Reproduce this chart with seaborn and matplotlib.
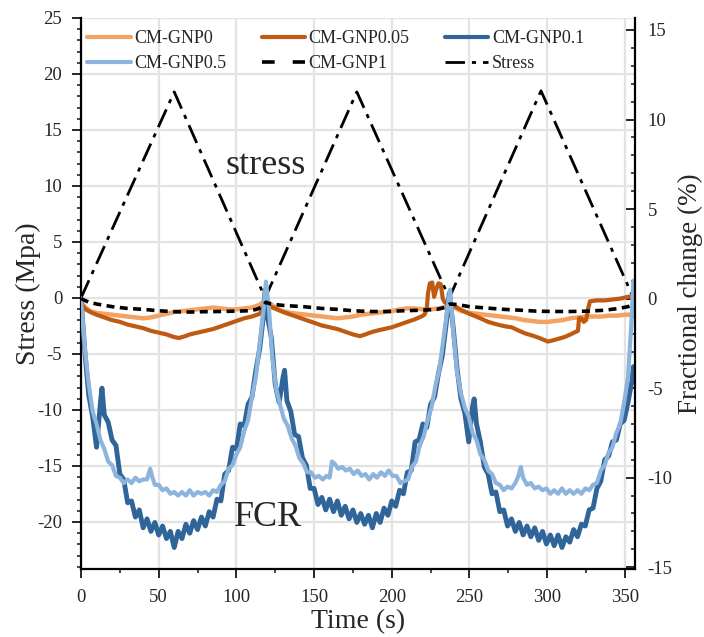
import matplotlib
matplotlib.use("Agg")
import matplotlib.pyplot as plt
import seaborn as sns
from matplotlib.ticker import MultipleLocator
from matplotlib.lines import Line2D

# ---------------- data ----------------
stress_t = [0, 60, 118.5, 177.5, 237, 296, 355.5]
stress_v = [0, 18.4, 0, 18.4, 0, 18.5, 0]

gnp01_t = [0, 2.5, 5, 7.5, 10, 12.5, 13.5, 15, 17.5, 20, 22.5, 25, 27.5, 30, 32.5, 35, 37.5, 40,
           42.5, 45, 47.5, 50, 52.5, 55, 57.5, 60, 62.5, 65, 67.5, 70, 72.5, 75, 77.5, 80, 82.5,
           85, 87.5, 90, 92.5, 95, 97.5, 100, 102.5, 105, 107.5, 110, 112.5, 115, 117.5, 118.5,
           120, 122.5, 125, 127.5, 130, 131, 132.5, 135, 137.5, 140, 142.5, 145, 147.5, 150,
           152.5, 155, 157.5, 160, 162.5, 165, 167.5, 170, 172.5, 175, 177.5, 180, 182.5, 185,
           187.5, 190, 192.5, 195, 197.5, 200, 202.5, 205, 207.5, 210, 212.5, 215, 217.5, 220,
           222.5, 225, 227.5, 230, 232.5, 235, 237,
           239.5, 242, 244.5, 247, 249.5, 252, 253, 254.5, 257, 259.5, 262, 264.5, 267, 269.5,
           272, 274.5, 277, 279.5, 282, 284.5, 287, 289.5, 292, 294.5, 297, 299.5, 302, 304.5,
           307, 309.5, 312, 314.5, 317, 319.5, 322, 324.5, 327, 329.5, 332, 334.5, 337, 339.5,
           342, 344.5, 347, 349.5, 352, 354.5, 355.5]
gnp01_v = [0.0, -3.0, -5.4, -6.6, -8.3, -5.8, -5.0, -6.5, -6.9, -7.9, -8.2, -9.8, -10.1, -11.4,
           -11.3, -12.2, -11.8, -12.8, -12.3, -13.0, -12.5, -13.2, -12.7, -13.4, -13.0, -13.9,
           -13.0, -13.4, -12.6, -13.1, -12.4, -12.9, -12.2, -12.7, -11.9, -12.2, -11.2, -11.3,
           -9.8, -9.6, -8.3, -8.4, -7.0, -7.1, -5.9, -5.5, -4.0, -2.8, -0.9, 0.5,
           -1.0, -2.2, -4.8, -5.8, -4.4, -4.0, -5.7, -6.3, -7.6, -7.7, -8.9, -9.3, -10.6, -10.6,
           -11.5, -11.1, -11.8, -11.2, -11.9, -11.3, -12.1, -11.6, -12.3, -11.8, -12.5, -12.0,
           -12.6, -12.1, -12.8, -12.0, -12.5, -11.7, -12.1, -11.3, -11.6, -10.7, -10.9, -9.7,
           -9.6, -8.0, -7.9, -7.0, -7.2, -5.9, -5.5, -4.2, -3.2, -1.4, 0.3,
           -1.6, -3.9, -5.6, -6.4, -8.0, -6.0, -5.6, -7.0, -8.0, -9.4, -9.8, -10.9, -10.8, -11.9,
           -11.8, -12.7, -12.3, -13.0, -12.5, -13.2, -12.7, -13.3, -12.8, -13.5, -13.0, -13.7,
           -13.2, -13.8, -13.2, -13.9, -13.3, -13.6, -12.9, -13.3, -12.6, -12.7, -11.8, -11.7,
           -10.6, -10.2, -9.0, -8.8, -8.0, -7.9, -7.0, -6.8, -5.8, -4.6, -3.8]

gnp05_t = [0, 2.5, 5, 7.5, 10, 12.5, 15, 17.5, 20, 22.5, 25, 27.5, 30, 32.5, 35, 37.5, 40, 42.5,
           44.5, 46, 47.5, 50, 52.5, 55, 57.5, 60, 62.5, 65, 67.5, 70, 72.5, 75, 77.5, 80, 82.5,
           85, 87.5, 90, 92.5, 95, 97.5, 100, 102.5, 105, 107.5, 110, 112.5, 115, 117.5, 119,
           121, 123, 125.5, 128, 130.5, 133, 135.5, 138, 140.5, 143, 145.5, 148, 150.5, 153,
           155.5, 158, 160, 161.5, 163, 165.5, 168, 170.5, 173, 175.5, 178, 180.5, 183, 185.5,
           188, 190.5, 193, 195.5, 198, 200.5, 203, 205.5, 208, 210.5, 213, 215.5, 218, 220.5,
           223, 225.5, 228, 230.5, 233, 235.5, 237.5,
           239.5, 242, 244.5, 247, 249.5, 252, 254.5, 257, 259.5, 262, 264.5, 267, 269.5, 272,
           274.5, 277, 279.5, 281.5, 283, 284.5, 287, 289.5, 292, 294.5, 297, 299.5, 302, 304.5,
           307, 309.5, 312, 314.5, 317, 319.5, 322, 324.5, 327, 329.5, 332, 334.5, 337, 339.5,
           342, 344.5, 347, 349.5, 352, 354, 355.5]
gnp05_v = [0.0, -2.8, -4.8, -6.3, -7.0, -7.9, -8.4, -9.1, -9.3, -9.9, -10.0, -10.3, -10.1, -10.3,
           -10.0, -10.2, -10.1, -10.1, -9.5, -10.0, -10.4, -10.4, -10.7, -10.6, -10.9, -10.8,
           -11.0, -10.8, -11.0, -10.7, -11.0, -10.8, -10.9, -10.8, -11.0, -10.7, -10.8, -10.4,
           -10.2, -9.5, -9.3, -8.7, -8.3, -7.4, -6.8, -5.5, -4.4, -2.5, -0.6, 0.95,
           -0.6, -3.2, -5.0, -5.9, -6.7, -7.1, -7.8, -8.2, -8.9, -9.2, -9.7, -9.7, -10.0, -9.9,
           -10.1, -9.9, -10.0, -9.1, -9.2, -9.5, -9.4, -9.6, -9.5, -9.8, -9.6, -9.9, -9.8, -10.1,
           -9.8, -10.0, -9.7, -9.9, -9.6, -9.9, -9.9, -10.3, -10.2, -10.1, -9.4, -9.1, -8.2,
           -7.7, -6.8, -6.1, -4.9, -4.0, -2.4, -0.8, 0.5,
           -1.8, -4.1, -5.3, -6.1, -6.6, -7.5, -7.9, -8.7, -9.0, -9.6, -9.8, -10.3, -10.4, -10.7,
           -10.5, -10.6, -10.3, -9.9, -9.4, -10.0, -10.4, -10.3, -10.6, -10.5, -10.7, -10.6,
           -10.9, -10.7, -10.9, -10.6, -10.9, -10.7, -10.9, -10.7, -10.9, -10.6, -10.7, -10.4,
           -10.3, -9.6, -9.3, -8.6, -8.3, -7.5, -7.0, -5.8, -4.4, -1.6, 1.0]

gnp0_t = [0, 3, 6, 10, 15, 20, 25, 30, 35, 40, 45, 50, 55, 60, 65, 70, 75, 80, 85, 90, 95, 100,
          105, 110, 115, 118.5, 122, 126, 130, 135, 140, 145, 150, 155, 160, 165, 170, 175, 180,
          185, 190, 195, 200, 205, 210, 215, 220, 225, 230, 235, 237, 240, 245, 250, 255, 260,
          265, 270, 275, 280, 285, 290, 295, 300, 305, 310, 315, 320, 325, 330, 335, 340, 345,
          350, 355.5]
gnp0_v = [-0.2, -0.5, -0.7, -0.8, -0.85, -0.9, -0.95, -1.0, -1.05, -1.1, -1.05, -0.95, -0.85,
          -0.75, -0.7, -0.65, -0.6, -0.55, -0.5, -0.55, -0.6, -0.6, -0.55, -0.5, -0.35, -0.05,
          -0.3, -0.55, -0.7, -0.8, -0.85, -0.9, -0.95, -1.0, -1.05, -1.1, -1.05, -1.0, -0.9,
          -0.85, -0.8, -0.75, -0.7, -0.6, -0.55, -0.55, -0.6, -0.6, -0.55, -0.45, -0.3, -0.5,
          -0.7, -0.8, -0.85, -0.9, -0.95, -1.0, -1.05, -1.1, -1.2, -1.25, -1.3, -1.3, -1.25,
          -1.2, -1.1, -1.05, -1.0, -1.0, -1.0, -0.95, -0.95, -0.9, -0.9]

gnp005_t = [0, 3, 6, 10, 15, 20, 25, 30, 35, 40, 45, 50, 55, 60, 63, 67, 70, 75, 80, 85, 90, 95,
            100, 105, 110, 115, 118.5, 122, 126, 130, 135, 140, 145, 150, 155, 160, 165, 170,
            175, 179.5, 183, 186, 190, 195, 200, 205, 210, 215, 219, 221, 222.5, 223.3, 224.5,
            226, 227.2, 228.5, 230, 231.5, 232.8, 234, 236, 240, 245, 250, 257, 262, 268, 273,
            277, 282, 286, 290, 295, 300.5, 305, 311, 315, 318.5, 319.8, 320.5, 322, 323.5, 325,
            326.5, 327.5, 332, 337, 342, 347, 352, 355.5]
gnp005_v = [-0.3, -0.6, -0.75, -0.9, -1.05, -1.2, -1.3, -1.45, -1.55, -1.65, -1.8, -1.9, -2.0,
            -2.15, -2.2, -2.1, -2.0, -1.9, -1.8, -1.7, -1.55, -1.4, -1.25, -1.1, -1.0, -0.85,
            -0.3, -0.45, -0.6, -0.75, -0.9, -1.05, -1.2, -1.35, -1.5, -1.6, -1.7, -1.85, -2.0,
            -2.1, -2.0, -1.9, -1.8, -1.7, -1.6, -1.45, -1.3, -1.15, -1.0, -0.9, -0.6, 0.3, 0.85,
            0.9, 0.1, 0.5, 0.85, 0.8, 0.0, -0.2, -0.3, -0.4, -0.65, -0.85, -1.1, -1.3, -1.45,
            -1.55, -1.6, -1.8, -1.95, -2.05, -2.2, -2.4, -2.3, -2.15, -2.0, -1.85, -1.8, -1.1,
            -1.1, -1.3, -1.2, -0.5, -0.15, -0.1, -0.1, -0.05, 0.0, 0.1, 0.15]

gnp1_t = [0, 5, 10, 20, 30, 40, 50, 60, 70, 80, 90, 100, 108, 113, 117, 119, 122, 130, 143, 155,
          165, 175, 186, 197, 207, 218, 229, 234, 237.5, 242, 250, 260, 272, 283, 293, 304, 315,
          326, 337, 346, 352, 355.5]
gnp1_v = [0.0, -0.2, -0.3, -0.45, -0.55, -0.6, -0.68, -0.73, -0.75, -0.73, -0.72, -0.7, -0.68,
          -0.6, -0.45, -0.2, -0.3, -0.38, -0.45, -0.55, -0.6, -0.68, -0.72, -0.72, -0.68, -0.65,
          -0.6, -0.5, -0.3, -0.33, -0.45, -0.52, -0.6, -0.65, -0.7, -0.72, -0.72, -0.7, -0.65,
          -0.55, -0.45, -0.35]

labels = ["CM-GNP0", "CM-GNP0.05", "CM-GNP0.1", "CM-GNP0.5", "CM-GNP1", "Stress"]
colors = ["#F4A261", "#BE5A12", "#2F6599", "#8DB4DD", "black", "black"]

# ---------------- style ----------------
sns.set_style("white")
plt.rcParams["font.family"] = ["Liberation Serif", "DejaVu Serif"]
plt.rcParams["axes.unicode_minus"] = False

fig = plt.figure(figsize=(7.04, 6.37), dpi=100)
ax = fig.add_axes([81 / 704, 68 / 637, 554 / 704, 551 / 637])
ax2 = ax.twinx()

grid_c = "#e3e3e3"
ax.set_axisbelow(True)
ax.grid(True, color=grid_c, lw=1.6)

# stress on left axis
sns.lineplot(x=stress_t, y=stress_v, ax=ax, color="black", lw=2.0, errorbar=None)
ax.lines[-1].set_dashes([7, 2.5, 1.5, 2.5])

# FCR series on right axis
series = [(gnp0_t, gnp0_v, 0), (gnp005_t, gnp005_v, 1), (gnp01_t, gnp01_v, 2),
          (gnp05_t, gnp05_v, 3), (gnp1_t, gnp1_v, 4)]
lws = [3.2, 3.0, 3.5, 3.0, 2.6]
for t, v, i in series:
    sns.lineplot(x=t, y=v, ax=ax2, color=colors[i], lw=lws[i], errorbar=None)
ax2.lines[-1].set_dashes([2.2, 1.5])

# limits and ticks
ax.set_xlim(0, 356.5)
ax.set_ylim(-24.2, 25)
ax2.set_ylim(-15.1, 15.67)
ax.xaxis.set_major_locator(MultipleLocator(50))
ax.xaxis.set_minor_locator(MultipleLocator(25))
ax.yaxis.set_major_locator(MultipleLocator(5))
ax.yaxis.set_minor_locator(MultipleLocator(1))
ax2.yaxis.set_major_locator(MultipleLocator(5))
ax2.yaxis.set_minor_locator(MultipleLocator(1))

for sp in ["top", "right"]:
    ax.spines[sp].set_visible(False)
ax2.spines["top"].set_visible(False)
ax2.spines["left"].set_visible(False)
ax2.spines["bottom"].set_visible(False)
for a, sps in ((ax, ["left", "bottom"]), (ax2, ["right"])):
    for sp in sps:
        a.spines[sp].set_color("black")
        a.spines[sp].set_linewidth(1.6)

ax.tick_params(axis="x", which="major", direction="out", length=6.5, width=1.4,
               labelsize=13.5, pad=8, bottom=True)
ax.tick_params(axis="x", which="minor", direction="out", length=3.2, width=1.2, bottom=True)
ax.tick_params(axis="y", which="major", direction="out", length=6.5, width=1.4,
               labelsize=13.5, pad=7, left=True)
ax.tick_params(axis="y", which="minor", direction="out", length=3.2, width=1.2, left=True)
ax2.tick_params(axis="y", which="major", direction="in", length=6.5, width=1.4,
                labelsize=13.5, pad=9, right=True)
ax2.tick_params(axis="y", which="minor", direction="in", length=3, width=1.2, right=True)

ax.set_xlabel("Time (s)", fontsize=20)
ax.set_ylabel("Stress (Mpa)", fontsize=20)
ax2.set_ylabel("Fractional change (%)", fontsize=19.5)
ax.xaxis.set_label_coords(0.5, -(622 - 569) / 551, transform=ax.transAxes)
ax.xaxis.label.set_va("center")
ax.yaxis.set_label_coords((28 - 81) / 554, 0.5, transform=ax.transAxes)
ax.yaxis.label.set_va("center")
ax2.yaxis.set_label_coords((690 - 81) / 554, 0.5, transform=ax2.transAxes)
ax2.yaxis.label.set_va("center")

ax.text(119, 11.8, "stress", fontsize=26, ha="center", va="center")
ax.text(120.5, -19.6, "FCR", fontsize=26, ha="center", va="center")

# legend
handles = []
for i, lab in enumerate(labels):
    if lab == "CM-GNP1":
        h = Line2D([], [], color="black", lw=2.6, dashes=[3.5, 5])
    elif lab == "Stress":
        h = Line2D([], [], color="black", lw=2.0, dashes=[7, 2.5, 1.5, 2.5])
    else:
        h = Line2D([], [], color=colors[i], lw=3.0)
    handles.append(h)
order = [0, 3, 1, 4, 2, 5]
leg = ax2.legend([handles[k] for k in order], [labels[k] for k in order],
                 ncol=3, loc="upper left", bbox_to_anchor=(0.005, 0.985), frameon=False,
                 fontsize=13, handlelength=2.4, handletextpad=0.2, columnspacing=1.95,
                 labelspacing=0.45, borderaxespad=0.0, borderpad=0.2)

fig.savefig("out.png", dpi=100)
